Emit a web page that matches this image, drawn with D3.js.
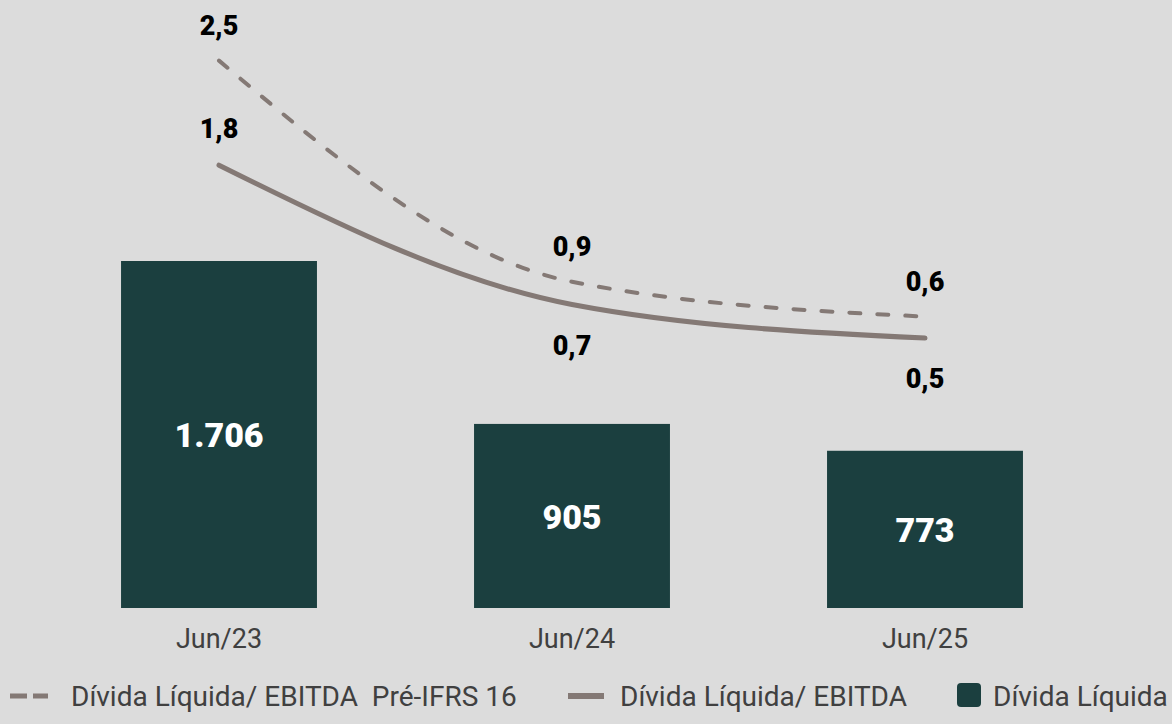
<!DOCTYPE html>
<html>
<head>
<meta charset="utf-8">
<script src="https://cdn.jsdelivr.net/npm/d3@7"></script>
<style>
  html, body { margin: 0; padding: 0; background: #dcdcdc; }
  svg { display: block; font-family: Roboto, "Liberation Sans", sans-serif; }
</style>
</head>
<body>
<svg id="chart" width="1172" height="724"></svg>
<script>
const periods     = ['Jun/23', 'Jun/24', 'Jun/25'];
const netDebt     = [1706, 905, 773];        // Dívida Líquida
const leverage    = [1.76, 0.72, 0.47];      // Dívida Líquida/ EBITDA
const leveragePre = [2.54, 0.89, 0.63];      // Dívida Líquida/ EBITDA Pré-IFRS 16
const legendLabels = ['Dívida Líquida/ EBITDA  Pré-IFRS 16', 'Dívida Líquida/ EBITDA', 'Dívida Líquida'];

const barColor  = '#1b3f3f';
const lineColor = '#847975';
const textColor = '#404040';

const br = d3.formatLocale({ decimal: ',', thousands: '.', grouping: [3], currency: ['R$', ''] });
const fmtInt = br.format(',d');
const fmtDec = br.format(',.1f');

const svg = d3.select('#chart');

const x = d3.scaleBand()
    .domain(periods)
    .range([42.5, 1101.5])
    .paddingInner(0.445)
    .paddingOuter(0.2225);
const yBar = d3.scaleLinear()
    .domain([0, 2000])
    .range([608, 201.2]);
const yLine = d3.scaleLinear()
    .domain([0, 3])
    .range([401, -1]);

const cx = p => x(p) + x.bandwidth() / 2;
const bars = periods.map((p, i) => ({ period: p, value: netDebt[i] }));

// bars
svg.append('g').selectAll('rect')
    .data(bars)
    .join('rect')
    .attr('x', d => x(d.period))
    .attr('y', d => yBar(d.value))
    .attr('width', x.bandwidth())
    .attr('height', d => yBar(0) - yBar(d.value))
    .attr('fill', barColor);

svg.append('g').selectAll('text')
    .data(bars)
    .join('text')
    .attr('x', d => cx(d.period))
    .attr('y', d => (yBar(d.value) + yBar(0)) / 2 + 13)
    .attr('text-anchor', 'middle')
    .attr('font-size', 34)
    .attr('font-weight', 900)
    .attr('fill', '#ffffff')
    .text(d => fmtInt(d.value));

// category axis labels
const xAxis = svg.append('g')
    .attr('transform', 'translate(0,608)')
    .call(d3.axisBottom(x).tickSize(0).tickPadding(21));
xAxis.select('.domain').remove();
xAxis.selectAll('text')
    .attr('font-size', 27)
    .attr('font-family', 'Roboto, sans-serif')
    .attr('fill', textColor);

// lines
const line = d3.line()
    .x(d => cx(d.period))
    .y(d => yLine(d.value))
    .curve(d3.curveMonotoneX);

const preSeries = periods.map((p, i) => ({ period: p, value: leveragePre[i] }));
const levSeries = periods.map((p, i) => ({ period: p, value: leverage[i] }));

svg.append('path')
    .datum(preSeries)
    .attr('d', line)
    .attr('fill', 'none')
    .attr('stroke', lineColor)
    .attr('stroke-width', 4)
    .attr('stroke-linecap', 'round')
    .attr('stroke-dasharray', '11,17');

svg.append('path')
    .datum(levSeries)
    .attr('d', line)
    .attr('fill', 'none')
    .attr('stroke', lineColor)
    .attr('stroke-width', 5)
    .attr('stroke-linecap', 'round');

// line value labels
svg.append('g').selectAll('text')
    .data(preSeries)
    .join('text')
    .attr('x', d => cx(d.period))
    .attr('y', d => yLine(d.value) - 26)
    .attr('text-anchor', 'middle')
    .attr('font-size', 27)
    .attr('font-weight', 900)
    .attr('fill', '#000')
    .text(d => fmtDec(d.value));

svg.append('g').selectAll('text')
    .data(levSeries)
    .join('text')
    .attr('x', d => cx(d.period))
    .attr('y', (d, i) => i === 0 ? yLine(d.value) - 27 : yLine(d.value) + 50)
    .attr('text-anchor', 'middle')
    .attr('font-size', 27)
    .attr('font-weight', 900)
    .attr('fill', '#000')
    .text(d => fmtDec(d.value));

// legend
const legY = 706;
const leg = svg.append('g');
leg.append('line')
    .attr('x1', 10).attr('x2', 48)
    .attr('y1', legY - 10).attr('y2', legY - 10)
    .attr('stroke', lineColor).attr('stroke-width', 5)
    .attr('stroke-dasharray', '17,6');
leg.append('line')
    .attr('x1', 568).attr('x2', 604)
    .attr('y1', legY - 10).attr('y2', legY - 10)
    .attr('stroke', lineColor).attr('stroke-width', 6);
leg.append('rect')
    .attr('x', 957).attr('y', legY - 23)
    .attr('width', 24).attr('height', 24)
    .attr('rx', 4)
    .attr('fill', barColor);
leg.selectAll('text')
    .data(legendLabels)
    .join('text')
    .attr('x', (d, i) => [71, 620, 993][i])
    .attr('y', legY)
    .attr('font-size', 28)
    .attr('fill', textColor)
    .style('white-space', 'pre')
    .text(d => d);
</script>
</body>
</html>
